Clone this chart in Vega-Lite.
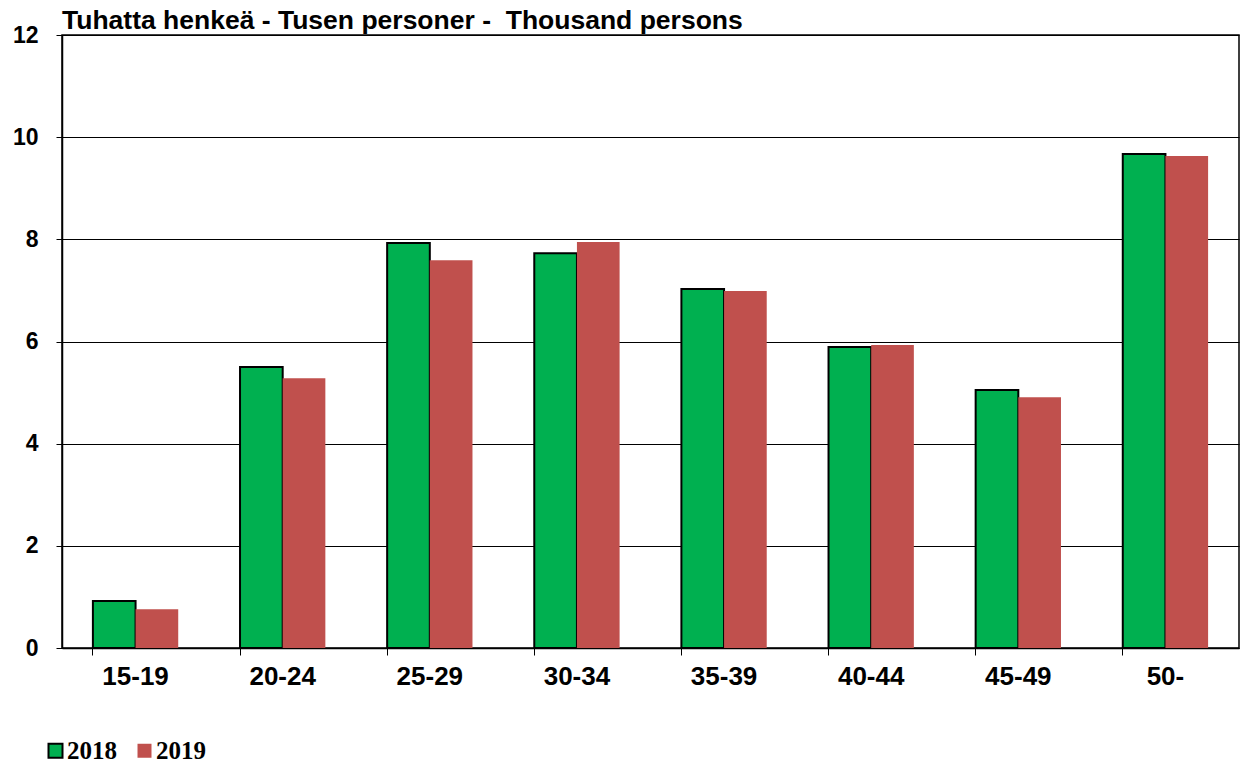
{
  "$schema": "https://vega.github.io/schema/vega-lite/v6.json",
  "width": 1177,
  "height": 613,
  "padding": {"left": 12, "top": 8, "right": 2, "bottom": 0},
  "background": "white",
  "title": {
    "text": "Tuhatta henkeä - Tusen personer -\u00a0 Thousand persons",
    "anchor": "start",
    "frame": "group",
    "font": "Liberation Sans",
    "fontSize": 26.5,
    "fontWeight": "bold",
    "color": "black",
    "offset": -10.5
  },
  "data": {
    "values": [
      {"age": "15-19", "year": "2018", "value": 0.92},
      {"age": "15-19", "year": "2019", "value": 0.76},
      {"age": "20-24", "year": "2018", "value": 5.50},
      {"age": "20-24", "year": "2019", "value": 5.28},
      {"age": "25-29", "year": "2018", "value": 7.93},
      {"age": "25-29", "year": "2019", "value": 7.59},
      {"age": "30-34", "year": "2018", "value": 7.73},
      {"age": "30-34", "year": "2019", "value": 7.95},
      {"age": "35-39", "year": "2018", "value": 7.03},
      {"age": "35-39", "year": "2019", "value": 6.99},
      {"age": "40-44", "year": "2018", "value": 5.89},
      {"age": "40-44", "year": "2019", "value": 5.93},
      {"age": "45-49", "year": "2018", "value": 5.05},
      {"age": "45-49", "year": "2019", "value": 4.91},
      {"age": "50-", "year": "2018", "value": 9.67},
      {"age": "50-", "year": "2019", "value": 9.63}
    ]
  },
  "mark": {"type": "bar", "strokeWidth": 2},
  "encoding": {
    "x": {
      "field": "age",
      "type": "nominal",
      "sort": null,
      "scale": {"paddingInner": 0.42, "paddingOuter": 0.21},
      "axis": {
        "title": null,
        "labelAngle": 0,
        "labelFont": "Liberation Sans",
        "labelFontSize": 26,
        "labelFontWeight": "bold",
        "labelColor": "black",
        "labelPadding": 8,
        "bandPosition": 0,
        "tickSize": 7,
        "tickColor": "black",
        "domainColor": "black",
        "domainWidth": 1.5,
        "grid": false
      }
    },
    "xOffset": {"field": "year", "type": "nominal"},
    "y": {
      "field": "value",
      "type": "quantitative",
      "scale": {"domain": [0, 12], "nice": false},
      "axis": {
        "title": null,
        "values": [0, 2, 4, 6, 8, 10, 12],
        "labelFont": "Liberation Sans",
        "labelFontSize": 23,
        "labelFontWeight": "bold",
        "labelColor": "black",
        "labelPadding": 18,
        "tickSize": 6,
        "tickColor": "black",
        "domainColor": "black",
        "domainWidth": 1.5,
        "grid": true,
        "gridColor": "black",
        "gridWidth": 1,
        "gridOpacity": 1
      }
    },
    "fill": {
      "field": "year",
      "type": "nominal",
      "scale": {"domain": ["2018", "2019"], "range": ["#00B050", "#C0504D"]},
      "legend": {
        "title": null,
        "orient": "none",
        "legendX": -19,
        "legendY": 703,
        "padding": 0,
        "direction": "horizontal",
        "symbolType": "square",
        "symbolSize": 196,
        "symbolStrokeWidth": 2,
        "symbolOpacity": 1,
        "labelFont": "Liberation Serif",
        "labelFontSize": 25,
        "labelFontWeight": "bold",
        "labelColor": "black",
        "labelOffset": -1,
        "columnPadding": 15
      }
    },
    "stroke": {
      "field": "year",
      "type": "nominal",
      "scale": {"domain": ["2018", "2019"], "range": ["black", "transparent"]},
      "legend": null
    }
  },
  "config": {
    "view": {"stroke": "black", "strokeWidth": 1.5}
  }
}
